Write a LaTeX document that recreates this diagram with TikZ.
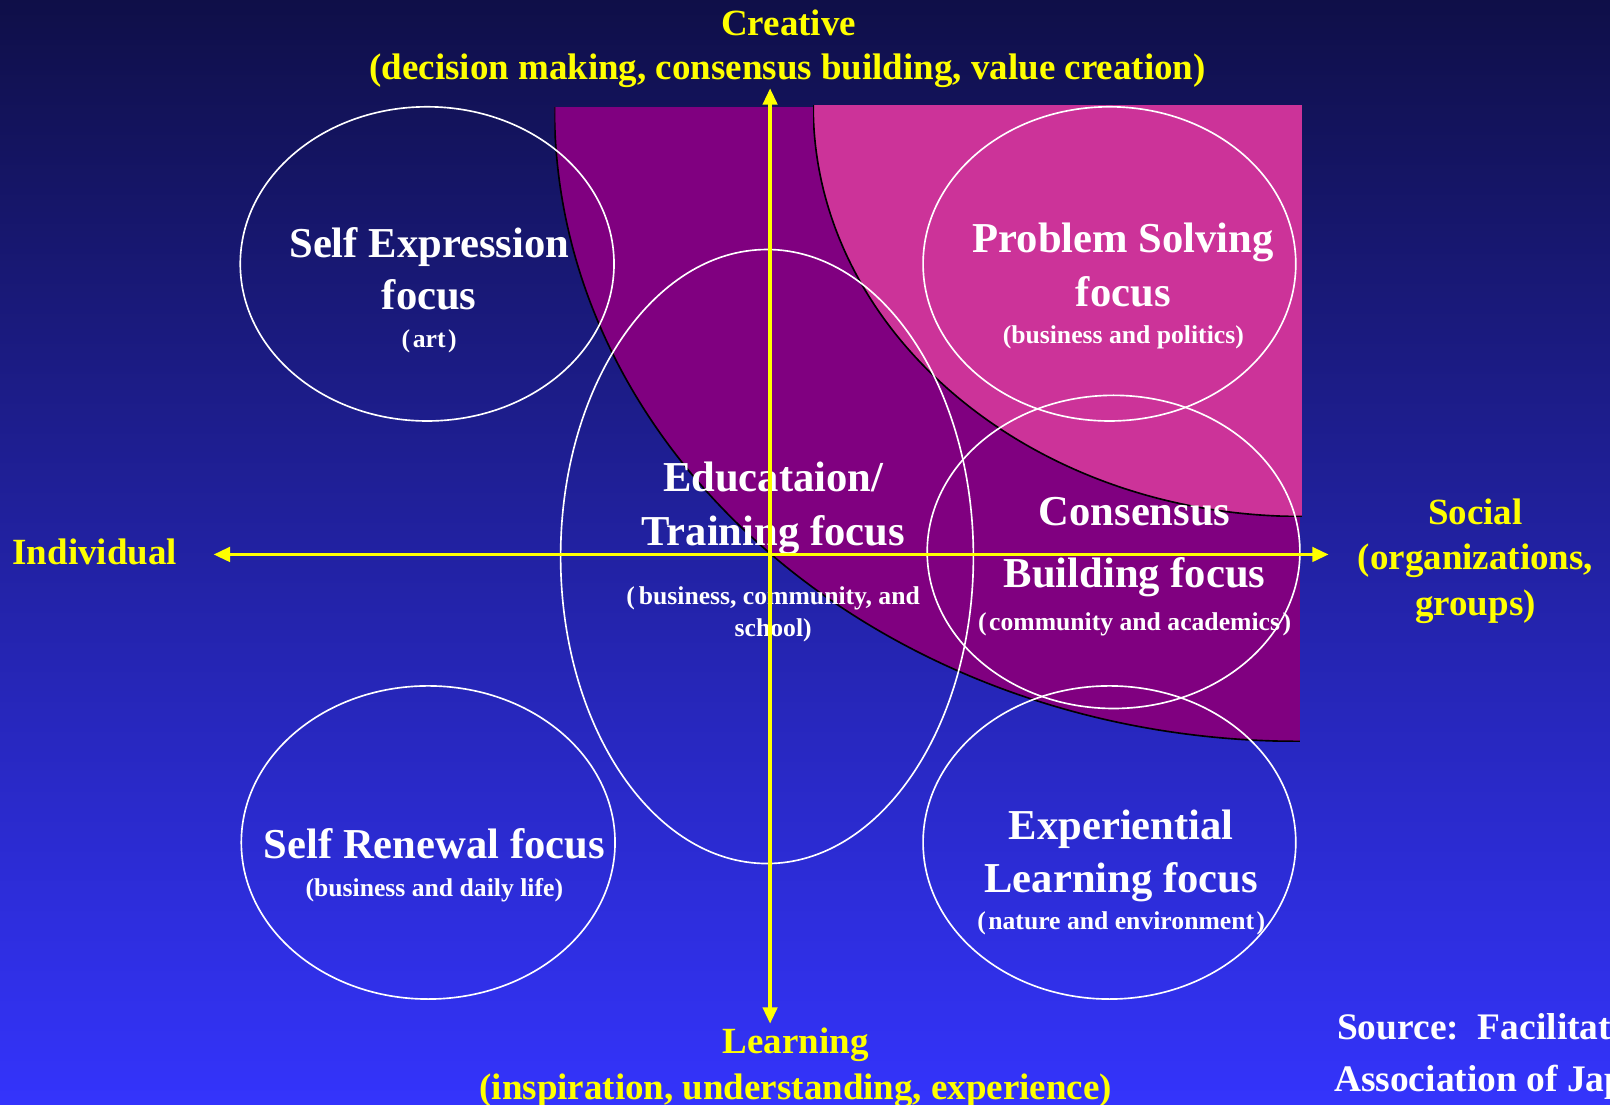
\documentclass[tikz,border=0pt]{standalone}
\usepackage{fontspec}
\setmainfont{Liberation Serif}
\usetikzlibrary{shapes.geometric,arrows.meta}
\definecolor{bgtop}{RGB}{15,15,72}
\definecolor{bgmid}{RGB}{40,40,192}
\definecolor{bgbot}{RGB}{52,52,252}
\definecolor{regpurple}{RGB}{128,0,128}
\definecolor{regpink}{RGB}{204,51,153}
\definecolor{axisyellow}{RGB}{255,255,0}
\begin{document}
\begin{tikzpicture}[x=1pt,y=-1pt,
  focusring/.style 2 args={draw=white,line width=1.6pt,ellipse,inner sep=0pt,
    minimum width=#1,minimum height=#2},
  head/.style={text=white,font=\fontsize{41.5}{48}\selectfont\bfseries,anchor=base,inner sep=0pt},
  note/.style={text=white,font=\fontsize{25}{30}\selectfont\bfseries,anchor=base,inner sep=0pt},
  axislabel/.style={text=axisyellow,font=\fontsize{36}{42}\selectfont\bfseries,anchor=base,inner sep=0pt},
  credit/.style={text=white,font=\fontsize{36.5}{42}\selectfont\bfseries,anchor=base west,inner sep=0pt},
  axisline/.style={draw=axisyellow,line width=3.4pt,
    arrows={Triangle[length=16pt,width=14pt]-Triangle[length=16pt,width=14pt]}},
  regionedge/.style={draw=black,line width=1.6pt}]

\useasboundingbox (0,0) rectangle (1568,1076);
\clip (0,0) rectangle (1568,1076);

% background gradient
\shade[top color=bgtop,middle color=bgmid,bottom color=bgbot] (0,0) rectangle (1568,1076);

% purple quarter region
\begin{scope}
  \clip (540,105) rectangle (1266,722);
  \fill[regpurple] (1266,105) ellipse [x radius=726,y radius=617];
  \draw[regionedge] (1266,105) ellipse [x radius=726,y radius=617];
\end{scope}

% pink quarter region
\begin{scope}
  \clip (792,103) rectangle (1268,503);
  \fill[regpink] (1268,103) ellipse [x radius=476,y radius=400];
  \draw[regionedge] (1268,103) ellipse [x radius=476,y radius=400];
\end{scope}

% focus areas
\node[focusring={364pt}{306pt}] (selfexp) at (416,257) {};
\node[focusring={363pt}{306pt}] (problem) at (1080.5,257) {};
\node[focusring={402pt}{598pt}] (educ) at (747,542) {};
\node[focusring={363pt}{305pt}] (consensus) at (1084.5,537.5) {};
\node[focusring={364pt}{305pt}] (renewal) at (417,820.5) {};
\node[focusring={363pt}{305pt}] (experiential) at (1080.5,820.5) {};

% focus labels
\node[head] (selfexpA) at (418,250.5) {Self Expression};
\node[head] (selfexpB) at (418,301.5) {focus};
\node[note] (selfexpC) at (418,338.5) {(\hspace{0.1em}art\hspace{0.1em})};

\node[head] (problemA) at (1094,245.5) {Problem Solving};
\node[head] (problemB) at (1094,298.5) {focus};
\node[note] (problemC) at (1094,334.5) {(business and politics)};

\node[head] (educA) at (753,478.5) {Educataion/};
\node[head] (educB) at (753,531.5) {Training focus};
\node[note] (educC) at (753,588.5) {(\hspace{0.15em}business, community, and};
\node[note] (educD) at (753,619.5) {school)};

\node[head] (consensusA) at (1105,511.5) {Consensus};
\node[head] (consensusB) at (1105,572.5) {Building focus};
\node[note] (consensusC) at (1105,614.5) {(\hspace{0.1em}community and academics\hspace{0.1em})};

\node[head] (renewalA) at (423,836.5) {Self Renewal focus};
\node[note] (renewalB) at (423,873.5) {(business and daily life)};

\node[head] (experientialA) at (1092,817.5) {Experiential};
\node[head] (experientialB) at (1092,869.5) {Learning focus};
\node[note] (experientialC) at (1092,905.5) {(\hspace{0.1em}nature and environment\hspace{0.1em})};

% axis labels
\node[axislabel] (creative) at (768,35) {Creative};
\node[axislabel] (creativeB) at (767,77) {(decision making, consensus building, value creation)};
\node[axislabel,anchor=base west] (individual) at (12,550) {Individual};
\node[axislabel] (social) at (1437,511) {Social};
\node[axislabel] (socialB) at (1437,555) {(organizations,};
\node[axislabel] (socialC) at (1437,599) {groups)};
\node[axislabel] (learning) at (775,1026) {Learning};
\node[axislabel] (learningB) at (775,1071) {(inspiration, understanding, experience)};

% source note
\node[credit] (srcA) at (1302,1012) {Source:\ \ Facilitation};
\node[credit] (srcB) at (1299,1063) {Association of Japan};

% axes
\coordinate (axtop) at (750,86);
\coordinate (axbot) at (750,997);
\coordinate (axleft) at (208,540);
\coordinate (axright) at (1294,540);
\draw[axisline] (axtop) -- (axbot);
\draw[axisline] (axleft) -- (axright);

\end{tikzpicture}
\end{document}
